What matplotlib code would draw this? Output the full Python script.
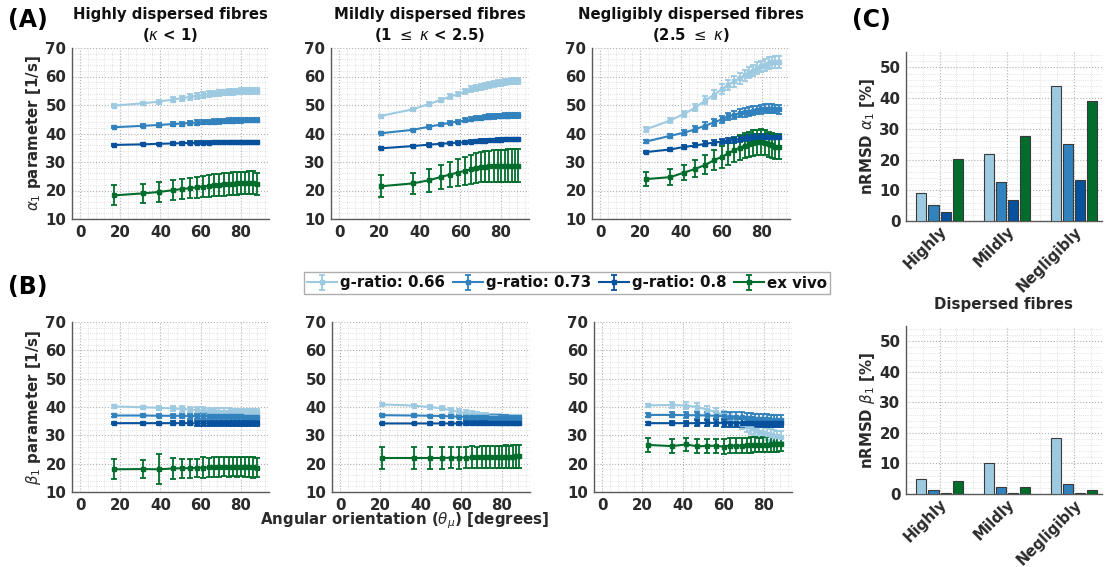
import matplotlib
matplotlib.use("Agg")
import matplotlib.pyplot as plt
from matplotlib.ticker import MultipleLocator

plt.rcParams['font.family'] = ['DejaVu Sans']
plt.rcParams['mathtext.fontset'] = 'dejavusans'

# ---------------- data ----------------
series_names = ["g-ratio: 0.66", "g-ratio: 0.73", "g-ratio: 0.8", "ex vivo"]
colors = ["#9ecae1", "#3182bd", "#08519c", "#006d2c"]

x_high = [17, 31.5, 39.5, 46, 50.5, 54.5, 58, 61, 64, 66.5, 69, 71.5, 74, 76, 78, 80, 82, 84, 86, 88]
x_mild = [20.8, 36.6, 44.6, 50.6, 55, 58.7, 62.3, 65.2, 67.7, 70.1, 72.3, 74.4, 76.6, 78.6, 80.3, 82, 83.7, 85.4, 87.1, 88.7]
x_negl = [22.9, 34.8, 41.6, 47.2, 52.1, 56.5, 60.3, 63.3, 66.4, 69.1, 71.5, 73.5, 75.6, 77.6, 79.6, 81.5, 83.4, 85.1, 86.8, 88.5]

# alpha_1, highly dispersed
a_high_066 = [49.8, 50.6, 51.2, 51.9, 52.4, 52.8, 53.2, 53.5, 53.8, 54.0, 54.2, 54.4, 54.5, 54.6, 54.7, 54.8, 54.9, 54.9, 55.0, 55.0]
a_high_073 = [42.2, 42.7, 43.0, 43.3, 43.5, 43.7, 43.8, 44.0, 44.1, 44.2, 44.3, 44.4, 44.5, 44.5, 44.6, 44.6, 44.7, 44.7, 44.7, 44.7]
a_high_080 = [36.0, 36.2, 36.4, 36.5, 36.6, 36.7, 36.7, 36.8, 36.8, 36.9, 36.9, 36.9, 37.0, 37.0, 37.0, 37.0, 37.0, 37.0, 37.0, 37.0]
a_high_exv = [18.3, 19.0, 19.5, 20.1, 20.5, 20.8, 21.1, 21.4, 21.6, 21.8, 22.0, 22.2, 22.3, 22.4, 22.5, 22.6, 22.6, 22.7, 22.7, 22.3]
a_high_066_e = [0.5, 0.6, 0.7, 0.8, 0.9, 0.9, 1.0, 1.0, 1.0, 1.0, 1.0, 1.0, 1.0, 1.0, 1.0, 1.0, 1.0, 1.0, 1.0, 1.0]
a_high_073_e = [0.4, 0.5, 0.6, 0.7, 0.7, 0.8, 0.8, 0.8, 0.8, 0.8, 0.8, 0.8, 0.8, 0.8, 0.8, 0.8, 0.8, 0.8, 0.8, 0.8]
a_high_080_e = [0.3, 0.4, 0.4, 0.5, 0.5, 0.5, 0.5, 0.5, 0.5, 0.5, 0.5, 0.5, 0.5, 0.5, 0.5, 0.5, 0.5, 0.5, 0.5, 0.5]
a_high_exv_e = [3.5, 3.3, 3.4, 3.5, 3.6, 3.6, 3.7, 3.8, 3.8, 3.9, 3.9, 4.0, 4.0, 4.0, 4.0, 4.0, 4.0, 4.1, 4.1, 4.0]

# alpha_1, mildly dispersed
a_mild_066 = [46.2, 48.5, 50.4, 51.8, 53.0, 53.8, 54.8, 55.6, 55.9, 56.3, 56.7, 57.0, 57.3, 57.6, 57.8, 58.0, 58.2, 58.3, 58.4, 58.5]
a_mild_073 = [40.1, 41.3, 42.4, 43.2, 43.8, 44.2, 44.6, 45.0, 45.3, 45.6, 45.8, 45.9, 46.0, 46.1, 46.2, 46.3, 46.3, 46.4, 46.4, 46.4]
a_mild_080 = [34.8, 35.6, 36.1, 36.4, 36.6, 36.8, 36.9, 37.1, 37.2, 37.4, 37.5, 37.6, 37.7, 37.8, 37.8, 37.9, 37.9, 37.9, 37.9, 37.9]
a_mild_exv = [21.5, 22.5, 23.6, 24.8, 25.6, 26.3, 26.9, 27.4, 27.8, 28.2, 28.4, 28.5, 28.6, 28.7, 28.7, 28.7, 28.7, 28.7, 28.7, 28.7]
a_mild_066_e = [0.4, 0.5, 0.6, 0.7, 0.8, 0.8, 0.9, 0.9, 1.0, 1.0, 1.0, 1.0, 1.0, 1.0, 1.0, 1.0, 1.0, 1.0, 1.0, 1.0]
a_mild_073_e = [0.4, 0.4, 0.5, 0.5, 0.6, 0.6, 0.7, 0.7, 0.7, 0.7, 0.8, 0.8, 0.8, 0.8, 0.8, 0.8, 0.8, 0.8, 0.8, 0.8]
a_mild_080_e = [0.3, 0.3, 0.4, 0.4, 0.4, 0.4, 0.5, 0.5, 0.5, 0.5, 0.5, 0.5, 0.5, 0.5, 0.5, 0.5, 0.5, 0.5, 0.5, 0.5]
a_mild_exv_e = [3.8, 3.8, 4.0, 4.3, 4.5, 4.7, 4.9, 5.1, 5.2, 5.3, 5.4, 5.5, 5.5, 5.6, 5.6, 5.6, 5.7, 5.7, 5.7, 5.7]

# alpha_1, negligibly dispersed
a_negl_066 = [41.5, 44.6, 46.9, 49.1, 51.6, 53.6, 55.6, 57.1, 58.3, 59.4, 60.4, 61.4, 62.1, 63.0, 63.6, 64.1, 64.7, 65.0, 65.1, 65.1]
a_negl_073 = [37.2, 39.2, 40.3, 41.5, 42.8, 43.9, 45.0, 46.0, 46.6, 47.1, 47.4, 47.7, 48.0, 48.3, 48.5, 48.7, 48.7, 48.7, 48.6, 48.5]
a_negl_080 = [33.5, 34.4, 35.3, 35.8, 36.4, 36.8, 37.2, 37.5, 37.8, 38.0, 38.3, 38.5, 38.7, 38.8, 38.9, 38.9, 38.9, 38.9, 38.9, 38.9]
a_negl_exv = [24.0, 24.7, 26.3, 27.6, 29.0, 30.7, 31.8, 33.0, 34.2, 35.0, 35.7, 36.2, 36.6, 36.9, 37.0, 36.8, 36.3, 35.8, 35.4, 35.2]
a_negl_066_e = [0.8, 1.0, 1.1, 1.3, 1.4, 1.6, 1.7, 1.8, 1.9, 1.9, 2.0, 2.0, 2.0, 2.0, 2.0, 2.0, 2.0, 2.0, 2.0, 2.0]
a_negl_073_e = [0.6, 0.8, 0.9, 1.0, 1.1, 1.2, 1.3, 1.3, 1.4, 1.4, 1.5, 1.5, 1.5, 1.5, 1.5, 1.5, 1.5, 1.5, 1.5, 1.5]
a_negl_080_e = [0.4, 0.5, 0.6, 0.7, 0.8, 0.8, 0.9, 0.9, 1.0, 1.0, 1.0, 1.0, 1.0, 1.0, 1.0, 1.0, 1.0, 1.0, 1.0, 1.0]
a_negl_exv_e = [2.5, 2.8, 2.6, 3.0, 3.3, 3.6, 3.8, 4.0, 4.2, 4.3, 4.4, 4.5, 4.5, 4.5, 4.5, 4.4, 4.4, 4.4, 4.4, 4.3]

# beta_1, highly dispersed
b_high_066 = [40.2, 39.9, 39.7, 39.5, 39.3, 39.1, 38.9, 38.8, 38.6, 38.5, 38.4, 38.3, 38.3, 38.2, 38.2, 38.2, 38.1, 38.1, 38.1, 38.1]
b_high_073 = [37.0, 37.0, 36.9, 36.9, 36.9, 36.8, 36.8, 36.8, 36.8, 36.7, 36.7, 36.7, 36.7, 36.7, 36.7, 36.7, 36.6, 36.6, 36.6, 36.6]
b_high_080 = [34.3, 34.3, 34.3, 34.3, 34.3, 34.3, 34.2, 34.2, 34.2, 34.2, 34.2, 34.2, 34.2, 34.2, 34.2, 34.2, 34.2, 34.2, 34.2, 34.2]
b_high_exv = [18.0, 18.1, 18.0, 18.3, 18.4, 18.4, 18.5, 18.6, 18.7, 18.8, 18.8, 18.9, 18.9, 18.9, 18.9, 18.9, 18.8, 18.8, 18.7, 18.6]
b_high_066_e = [0.5, 0.6, 0.7, 0.8, 0.9, 1.0, 1.0, 1.1, 1.1, 1.1, 1.2, 1.2, 1.2, 1.2, 1.2, 1.2, 1.2, 1.2, 1.2, 1.2]
b_high_073_e = [0.4, 0.5, 0.6, 0.7, 0.8, 0.9, 0.9, 1.0, 1.0, 1.0, 1.1, 1.1, 1.1, 1.1, 1.1, 1.1, 1.1, 1.1, 1.1, 1.1]
b_high_080_e = [0.4, 0.5, 0.5, 0.6, 0.7, 0.8, 0.8, 0.9, 0.9, 0.9, 1.0, 1.0, 1.0, 1.0, 1.0, 1.0, 1.0, 1.0, 1.0, 1.0]
b_high_exv_e = [3.5, 3.3, 5.3, 3.6, 3.4, 3.3, 3.3, 3.6, 3.3, 3.4, 3.5, 3.4, 3.5, 3.4, 3.5, 3.4, 3.5, 3.4, 3.6, 3.3]

# beta_1, mildly dispersed
b_mild_066 = [40.9, 40.5, 40.0, 39.5, 38.8, 38.3, 37.8, 37.5, 37.2, 36.9, 36.7, 36.5, 36.4, 36.2, 36.1, 36.0, 35.9, 35.9, 35.8, 35.8]
b_mild_073 = [37.1, 37.0, 36.9, 36.8, 36.7, 36.6, 36.5, 36.4, 36.4, 36.3, 36.3, 36.2, 36.2, 36.1, 36.1, 36.1, 36.0, 36.0, 36.0, 36.0]
b_mild_080 = [34.2, 34.2, 34.2, 34.2, 34.2, 34.2, 34.3, 34.3, 34.3, 34.3, 34.3, 34.3, 34.3, 34.3, 34.4, 34.4, 34.4, 34.4, 34.4, 34.4]
b_mild_exv = [22.0, 22.0, 22.0, 22.0, 22.1, 22.1, 22.1, 22.2, 22.2, 22.3, 22.3, 22.3, 22.4, 22.4, 22.4, 22.5, 22.5, 22.5, 22.6, 22.6]
b_mild_066_e = [0.4, 0.5, 0.6, 0.7, 0.8, 0.9, 1.0, 1.0, 1.1, 1.1, 1.1, 1.2, 1.2, 1.2, 1.2, 1.2, 1.2, 1.2, 1.2, 1.2]
b_mild_073_e = [0.3, 0.4, 0.4, 0.5, 0.6, 0.6, 0.7, 0.7, 0.8, 0.8, 0.8, 0.8, 0.9, 0.9, 0.9, 0.9, 0.9, 0.9, 0.9, 0.9]
b_mild_080_e = [0.3, 0.3, 0.4, 0.4, 0.5, 0.5, 0.6, 0.6, 0.6, 0.7, 0.7, 0.7, 0.7, 0.7, 0.7, 0.7, 0.7, 0.7, 0.7, 0.7]
b_mild_exv_e = [4.0, 3.9, 3.8, 3.8, 3.8, 3.9, 3.8, 3.9, 3.8, 3.9, 3.8, 3.9, 3.9, 3.9, 3.9, 4.0, 3.9, 4.0, 4.0, 4.0]

# beta_1, negligibly dispersed
b_negl_066 = [40.6, 40.7, 40.5, 40.0, 39.0, 38.2, 37.0, 36.1, 34.9, 34.1, 33.2, 32.5, 31.9, 31.3, 30.9, 30.5, 30.1, 29.9, 29.7, 29.5]
b_negl_073 = [37.2, 37.2, 37.1, 37.1, 37.0, 36.9, 36.8, 36.6, 36.5, 36.3, 36.2, 36.0, 35.9, 35.8, 35.7, 35.6, 35.5, 35.5, 35.4, 35.4]
b_negl_080 = [34.3, 34.3, 34.3, 34.3, 34.4, 34.4, 34.4, 34.4, 34.4, 34.4, 34.4, 34.4, 34.4, 34.4, 34.4, 34.4, 34.4, 34.4, 34.4, 34.4]
b_negl_exv = [26.6, 26.2, 26.8, 26.1, 26.3, 26.3, 26.0, 26.4, 26.3, 26.4, 26.5, 26.6, 26.7, 26.6, 26.7, 26.7, 26.8, 26.8, 26.9, 26.9]
b_negl_066_e = [0.6, 0.9, 1.1, 1.3, 1.5, 1.6, 1.7, 1.8, 1.9, 1.9, 2.0, 2.0, 2.0, 2.0, 2.0, 2.0, 2.0, 2.0, 2.0, 2.0]
b_negl_073_e = [0.6, 0.9, 1.1, 1.3, 1.4, 1.5, 1.6, 1.7, 1.7, 1.8, 1.8, 1.8, 1.8, 1.8, 1.8, 1.8, 1.8, 1.8, 1.8, 1.8]
b_negl_080_e = [0.5, 0.7, 0.9, 1.0, 1.1, 1.2, 1.3, 1.3, 1.4, 1.4, 1.4, 1.4, 1.4, 1.4, 1.4, 1.4, 1.4, 1.4, 1.4, 1.4]
b_negl_exv_e = [2.6, 2.5, 2.3, 2.5, 2.4, 2.5, 2.6, 2.7, 2.6, 2.6, 2.7, 2.7, 2.7, 2.6, 2.7, 2.7, 2.7, 2.6, 2.7, 2.6]

titles = ["Highly dispersed fibres\n($\\kappa$ < 1)",
          "Mildly dispersed fibres\n(1 $\\leq$ $\\kappa$ < 2.5)",
          "Negligibly dispersed fibres\n(2.5 $\\leq$ $\\kappa$)"]

bar_categories = ["Highly", "Mildly", "Negligibly"]
nrmsd_alpha_066 = [9.0, 21.7, 44.0]
nrmsd_alpha_073 = [5.3, 12.7, 25.0]
nrmsd_alpha_080 = [3.0, 6.8, 13.5]
nrmsd_alpha_exv = [20.2, 27.8, 39.0]
nrmsd_beta_066 = [5.0, 10.3, 18.2]
nrmsd_beta_073 = [1.3, 2.3, 3.2]
nrmsd_beta_080 = [0.2, 0.2, 0.2]
nrmsd_beta_exv = [4.3, 2.3, 1.3]

# ---------------- figure ----------------
fig = plt.figure(figsize=(11.10, 5.67), dpi=100)
W, H = 1110.0, 567.0

def ax_px(left, right, top, bottom):
    return fig.add_axes([left / W, 1 - bottom / H, (right - left) / W, (bottom - top) / H])

tick_col = "#2a2a2a"
grid_col = "#b0b0b0"

def style_axes(ax):
    for s in ["top", "right"]:
        ax.spines[s].set_visible(False)
    for s in ["left", "bottom"]:
        ax.spines[s].set_color("#5a5a5a")
        ax.spines[s].set_linewidth(1.0)
    ax.tick_params(axis="both", which="both", length=0, labelsize=10.8, colors=tick_col, pad=4)
    for lab in ax.get_xticklabels() + ax.get_yticklabels():
        lab.set_fontweight("bold")
    ax.grid(True, which="major", linestyle=":", color=grid_col, linewidth=0.8)
    ax.grid(True, which="minor", linestyle=":", color="#d8d8d8", linewidth=0.6)
    ax.set_axisbelow(True)

line_axes_px = [
    [(72, 269, 48, 219), (331, 529, 48, 219), (592, 790, 48, 219)],
    [(72, 269, 322, 492), (332, 530, 322, 492), (594, 792, 322, 492)],
]

xs = [x_high, x_mild, x_negl]
alpha_data = [
    [(a_high_066, a_high_066_e), (a_high_073, a_high_073_e), (a_high_080, a_high_080_e), (a_high_exv, a_high_exv_e)],
    [(a_mild_066, a_mild_066_e), (a_mild_073, a_mild_073_e), (a_mild_080, a_mild_080_e), (a_mild_exv, a_mild_exv_e)],
    [(a_negl_066, a_negl_066_e), (a_negl_073, a_negl_073_e), (a_negl_080, a_negl_080_e), (a_negl_exv, a_negl_exv_e)],
]
beta_data = [
    [(b_high_066, b_high_066_e), (b_high_073, b_high_073_e), (b_high_080, b_high_080_e), (b_high_exv, b_high_exv_e)],
    [(b_mild_066, b_mild_066_e), (b_mild_073, b_mild_073_e), (b_mild_080, b_mild_080_e), (b_mild_exv, b_mild_exv_e)],
    [(b_negl_066, b_negl_066_e), (b_negl_073, b_negl_073_e), (b_negl_080, b_negl_080_e), (b_negl_exv, b_negl_exv_e)],
]

handles = []
for row, data in enumerate([alpha_data, beta_data]):
    for col in range(3):
        ax = ax_px(*line_axes_px[row][col])
        for k in range(4):
            y, e = data[col][k]
            h = ax.errorbar(xs[col], y, yerr=e, color=colors[k], lw=1.5, elinewidth=1.3,
                            capsize=2.4, capthick=1.3, marker="s", markersize=2.2, zorder=3)
            if row == 0 and col == 0:
                handles.append(h)
        ax.set_xlim(-4, 94)
        ax.set_ylim(10, 70)
        ax.xaxis.set_major_locator(MultipleLocator(20))
        ax.xaxis.set_minor_locator(MultipleLocator(4))
        ax.yaxis.set_major_locator(MultipleLocator(10))
        ax.yaxis.set_minor_locator(MultipleLocator(2))
        style_axes(ax)
        if row == 0:
            ax.set_title(titles[col], fontsize=10.7, fontweight="bold", color="#111111", pad=6, linespacing=1.25)
        if col == 0:
            if row == 0:
                ax.set_ylabel("$\\alpha_1$ parameter [1/s]", fontsize=10.8, fontweight="bold", color=tick_col, labelpad=2)
            else:
                ax.set_ylabel("$\\beta_1$ parameter [1/s]", fontsize=10.8, fontweight="bold", color=tick_col, labelpad=2)

fig.text(405 / W, 1 - 521 / H, "Angular orientation ($\\theta_\\mu$) [degrees]", ha="center", va="center",
         fontsize=10.8, fontweight="bold", color=tick_col)

leg = fig.legend(handles, series_names, loc="center", bbox_to_anchor=(567 / W, 1 - 283 / H),
                 ncol=4, frameon=True, fontsize=10.8, handlelength=2.0, handletextpad=0.2,
                 columnspacing=0.5, borderpad=0.25, fancybox=False, edgecolor="#9a9a9a")
for t in leg.get_texts():
    t.set_fontweight("bold")
    t.set_color("#111111")

# panel labels
fig.text(8 / W, 1 - 20 / H, "(A)", fontsize=17, fontweight="bold", va="center", ha="left")
fig.text(8 / W, 1 - 287 / H, "(B)", fontsize=17, fontweight="bold", va="center", ha="left")
fig.text(852 / W, 1 - 20 / H, "(C)", fontsize=17, fontweight="bold", va="center", ha="left")

# ---------------- bar charts ----------------
pos = [1, 2, 3]
offsets = [-0.27, -0.09, 0.09, 0.27]
bar_w = 0.15

def bar_panel(px, vals, ylabel):
    ax = ax_px(*px)
    for k in range(4):
        ax.bar([p + offsets[k] for p in pos], vals[k], width=bar_w, color=colors[k],
               edgecolor="#3a3a3a", linewidth=0.8, zorder=3)
    ax.set_xlim(0.5, 3.42)
    ax.set_ylim(0, 55)
    ax.set_xticks(pos)
    ax.set_xticklabels(bar_categories, rotation=45, ha="right", rotation_mode="anchor")
    ax.yaxis.set_major_locator(MultipleLocator(10))
    ax.yaxis.set_minor_locator(MultipleLocator(2))
    ax.xaxis.set_minor_locator(MultipleLocator(0.25))
    style_axes(ax)
    ax.tick_params(axis="x", pad=2)
    ax.set_ylabel(ylabel, fontsize=10.8, fontweight="bold", color=tick_col, labelpad=2)
    return ax

axc1 = bar_panel((906, 1102, 52, 221),
                 [nrmsd_alpha_066, nrmsd_alpha_073, nrmsd_alpha_080, nrmsd_alpha_exv],
                 "nRMSD $\\alpha_1$ [%]")
axc2 = bar_panel((906, 1102, 326, 494),
                 [nrmsd_beta_066, nrmsd_beta_073, nrmsd_beta_080, nrmsd_beta_exv],
                 "nRMSD $\\beta_1$ [%]")
fig.text(1004 / W, 1 - 305 / H, "Dispersed fibres", ha="center", va="center",
         fontsize=10.8, fontweight="bold", color=tick_col)

fig.savefig("out.png", dpi=100)
